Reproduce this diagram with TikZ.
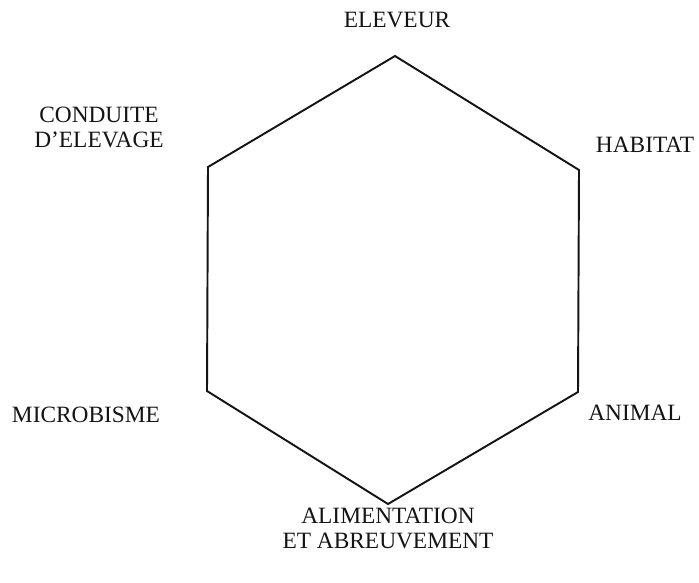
\documentclass[tikz,border=0pt]{standalone}
\usepackage{fontspec}
\setmainfont{Liberation Serif}
\usepackage{tikz}
\definecolor{inkblack}{RGB}{20,20,20}

\begin{document}
\begin{tikzpicture}[x=0.02cm, y=-0.02cm, font=\fontsize{13.3}{13.8}\selectfont]
  \useasboundingbox (0,0) rectangle (699,582);
  % hexagone
  \foreach \x/\y/\nm in {395/56/vtop, 579/170/vur, 578/392/vlr,
                         388/504/vbot, 207/391/vll, 208/167/vul} {
    \coordinate (\nm) at (\x,\y);
  }
  \draw[inkblack, line width=1.1pt, line join=miter]
    (vtop) -- (vur) -- (vlr) -- (vbot) -- (vll) -- (vul) -- cycle;
  % libelles
  \foreach \x/\y/\nm/\lbl in {397/27/eleveur/ELEVEUR, 645/152/habitat/HABITAT,
                              99/147/conduite/{CONDUITE\\D'ELEVAGE},
                              86/422/microbisme/MICROBISME, 635/420/animal/ANIMAL,
                              388/548/alim/{ALIMENTATION\\ET ABREUVEMENT}} {
    \node[anchor=base, align=center, inner sep=0pt, inkblack] (\nm) at (\x,\y) {\lbl};
  }
\end{tikzpicture}
\end{document}
